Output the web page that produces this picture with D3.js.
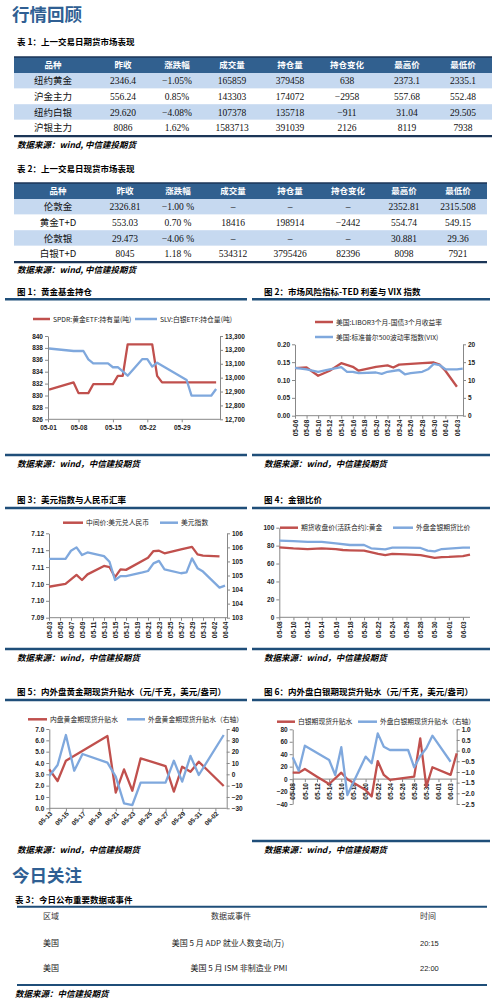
<!DOCTYPE html>
<html><head><meta charset="utf-8">
<script src="https://cdn.jsdelivr.net/npm/d3@7"></script>
<style>body{margin:0;background:#fff}svg{display:block}</style>
</head><body>
<script>
// ---------------- DATA ----------------
const tabHeader = ["品种","昨收","涨跌幅","成交量","持仓量","持仓变化","最高价","最低价"];
// Table 1 (futures)
const t1Names = ["纽约黄金","沪金主力","纽约白银","沪银主力"];
const t1Close = ["2346.4","556.24","29.620","8086"];
const t1Chg = ["−1.05%","0.85%","−4.08%","1.62%"];
const t1Vol = ["165859","143303","107378","1583713"];
const t1OI = ["379458","174072","135718","391039"];
const t1OIChg = ["638","−2958","−911","2126"];
const t1High = ["2373.1","557.68","31.04","8119"];
const t1Low = ["2335.1","552.48","29.505","7938"];
// Table 2 (spot)
const t2Names = ["伦敦金","黄金T+D","伦敦银","白银T+D"];
const t2Close = ["2326.81","553.03","29.473","8045"];
const t2Chg = ["−1.00 %","0.70 %","−4.06 %","1.18 %"];
const t2Vol = ["–","18416","–","534312"];
const t2OI = ["–","198914","–","3795426"];
const t2OIChg = ["–","−2442","–","82396"];
const t2High = ["2352.81","554.74","30.881","8098"];
const t2Low = ["2315.508","549.15","29.36","7921"];

// Chart 1: gold/silver ETF holdings
const c1Dates = ["2024-05-02","2024-05-07","2024-05-08","2024-05-10","2024-05-11","2024-05-15","2024-05-16","2024-05-17","2024-05-18","2024-05-23","2024-05-24","2024-05-25","2024-06-05"];
const c1Spdr = [831.0,832.2,830.4,830.4,831.9,831.9,833.3,833.3,838.6,838.6,833.3,832.2,832.2];
const c1SlvDates = ["2024-05-02","2024-05-07","2024-05-09","2024-05-10","2024-05-11","2024-05-14","2024-05-15","2024-05-16","2024-05-18","2024-05-21","2024-05-22","2024-05-23","2024-05-24","2024-05-30","2024-05-31","2024-06-04","2024-06-05"];
const c1Slv = [13210,13192,13192,13132,13103,13103,13075,13075,13014,13134,13134,13080,13108,12983,12870,12870,12918];
const c1Ticks = ["2024-05-01","2024-05-08","2024-05-15","2024-05-22","2024-05-29"];

// Chart 2: TED spread & VIX (daily categories)
const c2Cats = ["05-06","05-07","05-08","05-09","05-10","05-11","05-12","05-13","05-14","05-15","05-16","05-17","05-18","05-19","05-20","05-21","05-22","05-23","05-24","05-25","05-26","05-27","05-28","05-29","05-30","05-31","06-01","06-02","06-03","06-04"];
const c2Ted = [0.133,null,0.135,null,0.112,null,0.126,null,0.147,null,0.137,0.126,0.130,null,0.137,null,0.141,0.135,0.143,null,0.145,null,0.147,null,0.149,0.143,0.126,null,0.081,null];
const c2Vix = [13.4,null,13.0,null,12.3,null,13.0,null,13.6,12.3,12.3,11.9,null,null,12.1,11.7,12.3,null,12.8,11.6,11.9,null,12.3,13.0,14.5,14.2,13.0,null,13.0,13.2];

// Chart 3: USD/CNY central parity & USD index
const c3CnyDates = ["2024-05-03","2024-05-06","2024-05-08","2024-05-09","2024-05-10","2024-05-13","2024-05-14","2024-05-15","2024-05-16","2024-05-17","2024-05-21","2024-05-22","2024-05-23","2024-05-24","2024-05-27","2024-05-29","2024-05-30","2024-05-31","2024-06-03"];
const c3Cny = [7.1010,7.1020,7.1052,7.1034,7.1054,7.1084,7.1080,7.1044,7.1072,7.1070,7.1113,7.1137,7.1138,7.1129,7.1143,7.1152,7.1125,7.1121,7.1118];
const c3DxyDates = ["2024-05-03","2024-05-06","2024-05-07","2024-05-08","2024-05-09","2024-05-10","2024-05-13","2024-05-14","2024-05-15","2024-05-16","2024-05-17","2024-05-20","2024-05-21","2024-05-22","2024-05-23","2024-05-24","2024-05-27","2024-05-28","2024-05-29","2024-05-30","2024-05-31","2024-06-03","2024-06-04"];
const c3Dxy = [105.09,105.09,105.38,105.50,105.23,105.32,105.19,104.99,104.34,104.48,104.48,104.61,104.66,104.93,105.02,104.72,104.58,104.61,105.11,104.76,104.64,104.07,104.14];

// Chart 4: gold/silver ratio (daily categories)
const c4Cats = ["05-08","05-09","05-10","05-11","05-12","05-13","05-14","05-15","05-16","05-17","05-18","05-19","05-20","05-21","05-22","05-23","05-24","05-25","05-26","05-27","05-28","05-29","05-30","05-31","06-01","06-02","06-03","06-04"];
const c4Dom = [78.1,null,76.9,null,76.2,null,76.9,null,76.2,75.1,74.8,null,74.4,null,70.7,69.4,70.7,null,70.3,null,69.4,null,66.4,67.2,67.4,null,68.2,69.9];
const c4Ext = [85.5,null,85.0,null,84.1,null,84.1,null,82.6,null,80.7,null,80.7,77.0,null,75.9,77.7,null,77.7,null,77.4,74.4,73.6,76.2,76.6,null,77.7,77.7];

// Chart 5: gold basis
const c5DomDates = ["2024-05-13","2024-05-14","2024-05-15","2024-05-20","2024-05-21","2024-05-22","2024-05-23","2024-05-24","2024-05-27","2024-05-28","2024-05-29","2024-05-30","2024-05-31","2024-06-03"];
const c5Dom = [3.44,2.41,4.20,6.38,1.38,3.44,1.55,4.41,3.73,1.47,3.67,3.23,4.11,1.97];
const c5ExtDates = ["2024-05-13","2024-05-14","2024-05-15","2024-05-16","2024-05-17","2024-05-20","2024-05-21","2024-05-22","2024-05-23","2024-05-24","2024-05-27","2024-05-28","2024-05-29","2024-05-30","2024-05-31","2024-06-03"];
const c5Ext = [-1.5,8.2,34.7,3.2,17.9,10.3,-2.1,-25.6,-27.1,-7.4,-7.4,12.0,-6.5,16.2,-0.6,34.7];

// Chart 6: silver basis (daily categories)
const c6Cats = ["05-08","05-09","05-10","05-11","05-12","05-13","05-14","05-15","05-16","05-17","05-18","05-19","05-20","05-21","05-22","05-23","05-24","05-25","05-26","05-27","05-28","05-29","05-30","05-31","06-01","06-02","06-03","06-04"];
const c6Dom = [10.3,10.3,16.2,null,3.9,null,-7.9,null,10.3,-0.3,-5.8,null,-17.5,-28,29,6.7,-1.4,null,null,null,3.9,65.5,-12.2,19,null,null,6.7,41.4];
const c6Ext = [-0.31,-0.94,0.23,null,null,null,-0.44,-1.14,0.16,-2.08,null,null,-0.28,-0.59,0.81,0.18,0.03,null,null,0.03,-0.78,-0.25,0.11,0.70,null,null,-0.52,null];

// Table 3
const t3Header = ["区域","数据或事件","时间"];
const t3Region = ["美国","美国"];
const t3Event = ["美国 5 月 ADP 就业人数变动(万)","美国 5 月 ISM 非制造业 PMI"];
const t3Time = ["20:15","22:00"];

// ---------------- DRAW ----------------
const W=500,H=1007;
const RED="#c0504d", BLUE="#7fa8dd", NAVY="#1f4e79";
const CJK='"Noto Sans CJK SC", sans-serif';
const SERIF='"Liberation Serif", "Noto Sans CJK SC", serif';
const SANS='"Liberation Sans", Arial, "Noto Sans CJK SC", sans-serif';
const svg=d3.select("body").append("svg").attr("width",W).attr("height",H);
svg.append("rect").attr("width",W).attr("height",H).attr("fill","#fff");

function txt(x,y,s,o={}){
  return svg.append("text").attr("x",x).attr("y",y).text(s)
    .attr("font-family",o.f||CJK).attr("font-size",o.s||8)
    .attr("font-weight",o.w||"normal").attr("fill",o.c||"#000")
    .attr("text-anchor",o.a||"start").attr("font-style",o.i?"italic":"normal");
}
function hline(x1,x2,y,w,c){svg.append("line").attr("x1",x1).attr("x2",x2).attr("y1",y).attr("y2",y).attr("stroke",c||NAVY).attr("stroke-width",w||2);}

// Titles
txt(12,20.5,"行情回顾",{s:17.5,w:"bold",c:"#2f5f93"});
txt(17,45,"表 1：上一交易日期货市场表现",{s:8.5,w:"bold"});

function table(top,x0,x1,colX,cols){
  const hh=16, rh=15.6;
  svg.append("rect").attr("x",x0).attr("y",top).attr("width",x1-x0).attr("height",hh).attr("fill","#31608f");
  hline(x0,x1,top,1.5,"#1b3557");
  tabHeader.forEach((h,i)=>txt(colX[i],top+11,h,{s:8.5,w:"bold",c:"#fff",a:"middle"}));
  const n=cols[0].length;
  for(let r=0;r<n;r++){
    const y=top+hh+r*rh;
    svg.append("rect").attr("x",x0).attr("y",y).attr("width",x1-x0).attr("height",rh).attr("fill",r%2===0?"#c6d9f0":"#fff");
    cols.forEach((c,i)=>txt(colX[i],y+rh/2+3.5,c[r],{s:i===0?9.5:9.5,f:i===0?CJK:SERIF,a:"middle",c:"#111"}));
  }
  hline(x0,x1,top+hh+n*rh+0.8,2.2,"#1b3557");
}
table(57,14,492,[53,123,177,232,290,347,407,463],[t1Names,t1Close,t1Chg,t1Vol,t1OI,t1OIChg,t1High,t1Low]);
txt(17,148,"数据来源：wind, 中信建投期货",{s:8.5,w:"bold",i:true});
txt(17,172,"表 2：上一交易日现货市场表现",{s:8.5,w:"bold"});
table(183,14,487,[58,125,178,233,290,348,404,458],[t2Names,t2Close,t2Chg,t2Vol,t2OI,t2OIChg,t2High,t2Low]);
txt(17,273,"数据来源：wind, 中信建投期货",{s:8.5,w:"bold",i:true});

// chart frame
function frame(x1,x2,titleY,lineY,botY,title,srcY){
  txt(x1+12,titleY,title,{s:8.5,w:"bold"});
  hline(x1,x2,lineY,2.5);
  if(botY) hline(x1,x2,botY,2.5);
  txt(x1+12,srcY,"数据来源：wind，中信建投期货",{s:8.5,w:"bold",i:true});
}
frame(5,247,295,299.3,455,"图 1：黄金基金持仓",466.5);
frame(252,490,295,299.3,455,"图 2：市场风险指标-TED 利差与 VIX 指数",466.5);
frame(5,247,503,508,649,"图 3：美元指数与人民币汇率",660.5);
frame(252,490,503,508,649,"图 4：金银比价",660.5);
frame(5,247,695,700,null,"图 5：内外盘黄金期现货升贴水（元/千克，美元/盎司）",853);
frame(252,490,695,700,841,"图 6：内外盘白银期现货升贴水（元/千克，美元/盎司）",853);

function styleAxis(g,fs){
  g.select(".domain").attr("stroke","#888").attr("stroke-width",1);
  g.selectAll(".tick line").attr("stroke","#888");
  g.selectAll("text").attr("font-family",SANS).attr("font-size",fs||6.5).attr("font-weight","bold").attr("fill","#222");
}
function chart(c){
  const g=svg.append("g");
  const yL=d3.scaleLinear().domain(c.left.domain).range([c.yB,c.yT]);
  const gl=g.append("g").attr("transform",`translate(${c.x0},0)`)
    .call(d3.axisLeft(yL).tickValues(c.left.ticks).tickFormat(c.left.fmt).tickSize(3).tickSizeOuter(0).tickPadding(2));
  styleAxis(gl);
  let yR=null;
  if(c.right){
    yR=d3.scaleLinear().domain(c.right.domain).range([c.yB,c.yT]);
    const gr=g.append("g").attr("transform",`translate(${c.x1},0)`)
      .call(d3.axisRight(yR).tickValues(c.right.ticks).tickFormat(c.right.fmt).tickSize(3).tickSizeOuter(0).tickPadding(2));
    styleAxis(gr);
  }
  const xAxY = c.xAxisY!=null? c.xAxisY(yL) : c.yB;
  g.append("line").attr("x1",c.x0).attr("x2",c.x1).attr("y1",xAxY).attr("y2",xAxY).attr("stroke","#888");
  const ax=d3.axisBottom(c.x).tickValues(c.xTicks).tickFormat(c.xFmt).tickSize(3).tickSizeOuter(0);
  const gx=g.append("g").attr("transform",`translate(0,${xAxY})`).call(ax);
  styleAxis(gx,c.xfs||6.5);
  gx.select(".domain").remove();
  if(c.xRot===-90){
    gx.selectAll("text").attr("y",0).attr("x",-4).attr("dy","0.35em").attr("transform","rotate(-90)").attr("text-anchor","end");
  } else if(c.xRot===-45){
    gx.selectAll("text").attr("y",4).attr("x",-2).attr("dy","0.35em").attr("transform","rotate(-45)").attr("text-anchor","end");
  }
  c.series.forEach(s=>{
    const ys = s.axis==="right"? yR : yL;
    const pts = s.xs.map((d,i)=>[d,s.ys[i]]).filter(p=>p[1]!=null);
    g.append("path").attr("d",d3.line().x(p=>c.x(p[0])).y(p=>ys(p[1]))(pts))
      .attr("fill","none").attr("stroke",s.color).attr("stroke-width",2.3).attr("stroke-linejoin","round");
  });
  (c.legend||[]).forEach(l=>{
    g.append("line").attr("x1",l.x1).attr("x2",l.x2).attr("y1",l.y).attr("y2",l.y).attr("stroke",l.color).attr("stroke-width",2.5);
    g.append("text").attr("x",l.x2+3).attr("y",l.y+2.5).text(l.text).attr("font-family",CJK).attr("font-size",l.fs||6.8).attr("fill","#222");
  });
}
const pd=d3.timeParse("%Y-%m-%d");
const fmd=d3.timeFormat("%m-%d");

// Chart 1
{
  const x=d3.scaleTime().domain([new Date(2024,4,1,19),new Date(2024,5,5,19)]).range([48,220]).clamp(true);
  chart({x0:48,x1:220,yT:336,yB:419.3,x,xTicks:c1Ticks.map(pd),xFmt:fmd,xfs:6.5,
    left:{domain:[826,840],ticks:d3.range(826,841,2),fmt:d3.format("d")},
    right:{domain:[12700,13300],ticks:d3.range(12700,13301,100),fmt:d3.format(",")},
    series:[{xs:c1Dates.map(pd),ys:c1Spdr,color:RED},{xs:c1SlvDates.map(pd),ys:c1Slv,color:BLUE,axis:"right"}],
    legend:[{x1:33,x2:50,y:319,text:"SPDR:黄金ETF:持有量(吨)",color:RED},{x1:135,x2:157,y:319,text:"SLV:白银ETF:持仓量(吨)",color:BLUE}]});
}
// Chart 2
{
  const x=d3.scalePoint().domain(c2Cats).range([295,462.7]);
  chart({x0:295,x1:463,yT:344.3,yB:415.7,x,xTicks:c2Cats.filter((d,i)=>i%2===0),xFmt:d=>d,xRot:-90,
    left:{domain:[0,0.2],ticks:[0,0.05,0.1,0.15,0.2],fmt:d3.format(".2f")},
    right:{domain:[0,20],ticks:[0,5,10,15,20],fmt:d3.format("d")},
    series:[{xs:c2Cats,ys:c2Ted,color:RED},{xs:c2Cats,ys:c2Vix,color:BLUE,axis:"right"}],
    legend:[{x1:315,x2:333,y:322,text:"美国:LIBOR3个月-国债3个月收益率",color:RED},{x1:315,x2:333,y:337,text:"美国:标准普尔500波动率指数(VIX)",color:BLUE}]});
}
// Chart 3
{
  const x=d3.scaleTime().domain([pd("2024-05-03"),pd("2024-06-04")]).range([49,225]);
  const ticks=d3.timeDay.range(pd("2024-05-03"),pd("2024-06-05"),2);
  chart({x0:49,x1:227,yT:533.3,yB:617.7,x,xTicks:ticks,xFmt:fmd,xRot:-90,
    left:{domain:[7.09,7.12],ticks:d3.range(6).map(i=>7.09+i*0.006),fmt:d3.format(".2f")},
    right:{domain:[103,106],ticks:d3.range(7).map(i=>103+i*0.5),fmt:v=>v.toFixed(0)},
    series:[{xs:c3CnyDates.map(pd),ys:c3Cny,color:RED},{xs:c3DxyDates.map(pd),ys:c3Dxy,color:BLUE,axis:"right"}],
    legend:[{x1:63,x2:83,y:522.7,text:"中间价:美元兑人民币",color:RED},{x1:160,x2:178,y:522.7,text:"美元指数",color:BLUE}]});
}
// Chart 4
{
  const x=d3.scalePoint().domain(c4Cats).range([279.3,470]);
  chart({x0:279.3,x1:470,yT:527.7,yB:617.3,x,xTicks:c4Cats.filter((d,i)=>i%2===0),xFmt:d=>d,xRot:-90,
    left:{domain:[0,100],ticks:d3.range(0,101,20),fmt:d3.format("d")},
    series:[{xs:c4Cats,ys:c4Dom,color:RED},{xs:c4Cats,ys:c4Ext,color:BLUE}],
    legend:[{x1:280,x2:298,y:527.7,text:"期货收盘价(活跃合约):黄金",color:RED},{x1:393,x2:413,y:527.7,text:"外盘金银期货比价",color:BLUE}]});
}
// Chart 5
{
  const x=d3.scaleTime().domain([pd("2024-05-13"),pd("2024-06-03")]).range([49.3,223.7]);
  const ticks=d3.timeDay.range(pd("2024-05-13"),pd("2024-06-03"),2);
  chart({x0:49.3,x1:226.7,yT:729,yB:808.3,x,xTicks:ticks,xFmt:fmd,xRot:-45,
    left:{domain:[0,7],ticks:d3.range(0,7.01,1),fmt:d3.format(".1f")},
    right:{domain:[-30,40],ticks:d3.range(-30,41,10),fmt:d3.format("d")},
    series:[{xs:c5DomDates.map(pd),ys:c5Dom,color:RED},{xs:c5ExtDates.map(pd),ys:c5Ext,color:BLUE,axis:"right"}],
    legend:[{x1:28,x2:47,y:719.3,text:"内盘黄金期现货升贴水",color:RED},{x1:127,x2:145,y:719.3,text:"外盘黄金期现货升贴水（右轴）",color:BLUE}]});
}
// Chart 6
{
  const x=d3.scalePoint().domain(c6Cats).range([292.7,456.7]);
  chart({x0:292.7,x1:456.7,yT:729.3,yB:804,x,xTicks:c6Cats.filter((d,i)=>i%2===0),xFmt:d=>d,xRot:-90,
    xAxisY:y=>y(0),
    left:{domain:[-40,80],ticks:d3.range(-40,81,20),fmt:d3.format("d")},
    right:{domain:[-2.5,1.0],ticks:d3.range(8).map(i=>-2.5+i*0.5),fmt:d3.format(".1f")},
    series:[{xs:c6Cats,ys:c6Dom,color:RED},{xs:c6Cats,ys:c6Ext,color:BLUE,axis:"right"}],
    legend:[{x1:277,x2:295,y:721.7,text:"白银期现货升贴水",color:RED},{x1:358,x2:377,y:721.7,text:"外盘白银期现货升贴水（右轴）",color:BLUE}]});
}

// Today section
txt(12,882,"今日关注",{s:17.5,w:"bold",c:"#2f5f93"});
txt(15,903,"表 3：今日公布重要数据或事件",{s:8.5,w:"bold"});
hline(17,487,906.7,2);
txt(43,919,t3Header[0],{s:8,c:"#333"});
txt(231,919,t3Header[1],{s:8,c:"#333",a:"middle"});
txt(420,919,t3Header[2],{s:8,c:"#333"});
[945.5,971].forEach((y,i)=>{
  txt(43,y,t3Region[i],{s:8,c:"#222"});
  txt(i===0?228:239,y,t3Event[i],{s:8,c:"#222",a:"middle"});
  txt(420,y,t3Time[i],{s:7.5,c:"#222",f:SANS});
});
hline(17,487,985,2);
txt(15,997,"数据来源：中信建投期货",{s:8.5,w:"bold",i:true});
</script>
</body></html>
